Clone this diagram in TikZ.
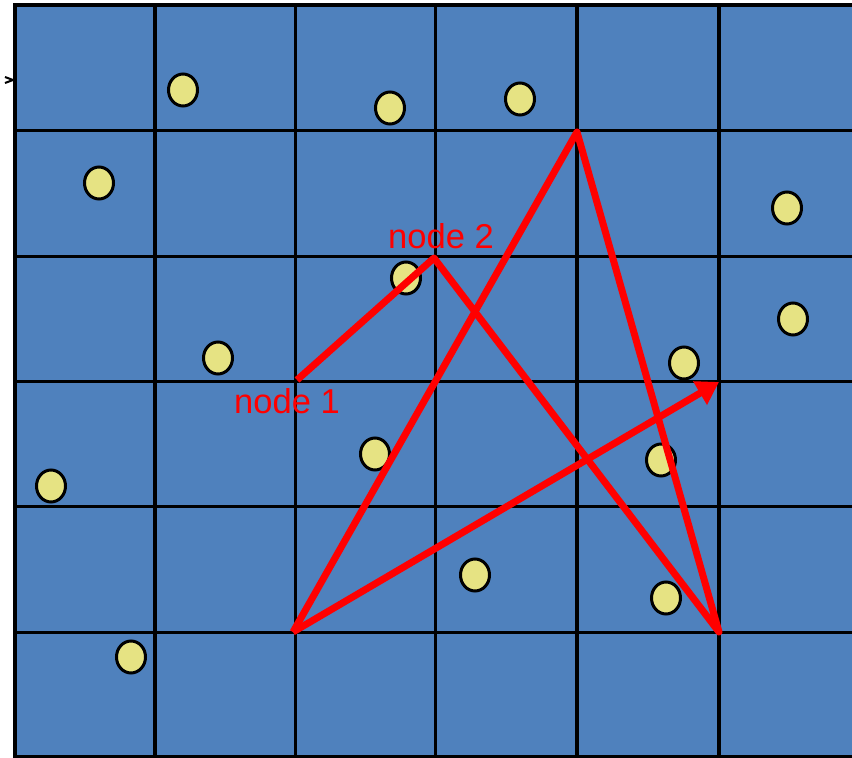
\documentclass[tikz,border=0pt]{standalone}
\usepackage{fontspec}
\setmainfont{Liberation Sans}
\usetikzlibrary{arrows.meta,shapes.geometric}
\definecolor{cellblue}{HTML}{4F81BD}
\definecolor{dotyellow}{HTML}{E6E383}
\definecolor{pathred}{HTML}{FF0000}
\tikzset{
  dot/.style={ellipse, draw=black, line width=3pt, fill=dotyellow, minimum width=29pt, minimum height=32pt, inner sep=0pt},
  gridline/.style={draw=black, line width=3pt},
  redpath/.style={draw=pathred, line width=7pt, line join=round},
  lbl/.style={text=pathred, font=\fontsize{34.5}{38}\selectfont, inner sep=0pt}
}
\begin{document}
\begin{tikzpicture}[x=1pt,y=-1pt]
\useasboundingbox (0,0) rectangle (852,758);
% background cells
\fill[cellblue] (15,5) rectangle (852,757);
% grid
\foreach \x in {295,435} \draw[gridline] (\x,5) -- (\x,757);
\foreach \x in {155,719} \draw[gridline, line width=3.4pt] (\x,5) -- (\x,757);
\draw[gridline, line width=4pt] (577,5) -- (577,757);
\foreach \y in {130,256,381,506,632} \draw[gridline] (15,\y) -- (852,\y);
\draw[gridline, line width=3.4pt] (852,5) -- (15,5) -- (15,757) -- (852,757);
% small mark on left
\draw[line width=2pt] (5,77) -- (13,80) -- (5,83);
% dots
\node[dot] (d1) at (183,90) {};
\node[dot] (d2) at (390,108) {};
\node[dot] (d3) at (520,99) {};
\node[dot] (d4) at (99,183) {};
\node[dot] (d5) at (787,208) {};
\node[dot] (d6) at (406,278) {};
\node[dot] (d7) at (218,358) {};
\node[dot] (d8) at (793,319) {};
\node[dot] (d9) at (684,363) {};
\node[dot] (d10) at (375,454) {};
\node[dot] (d11) at (661,460) {};
\node[dot] (d12) at (51,486) {};
\node[dot] (d13) at (475,575) {};
\node[dot] (d14) at (666,598) {};
\node[dot] (d15) at (131,657) {};
% path vertices
\coordinate (n1) at (297,380);
\coordinate (n2) at (434,258);
\coordinate (p3) at (719,632);
\coordinate (p4) at (577,132);
\coordinate (p5) at (293,632);
\coordinate (p6) at (719,382);
\draw[redpath] (n1) -- (n2) -- (p3) -- (p4) -- (p5);
\draw[redpath, -{Triangle[length=22pt,width=26pt]}] (p5) -- (p6);
% labels
\node[lbl] (l2) at (441,236) {node 2};
\node[lbl] (l1) at (287,401) {node 1};
\end{tikzpicture}
\end{document}
